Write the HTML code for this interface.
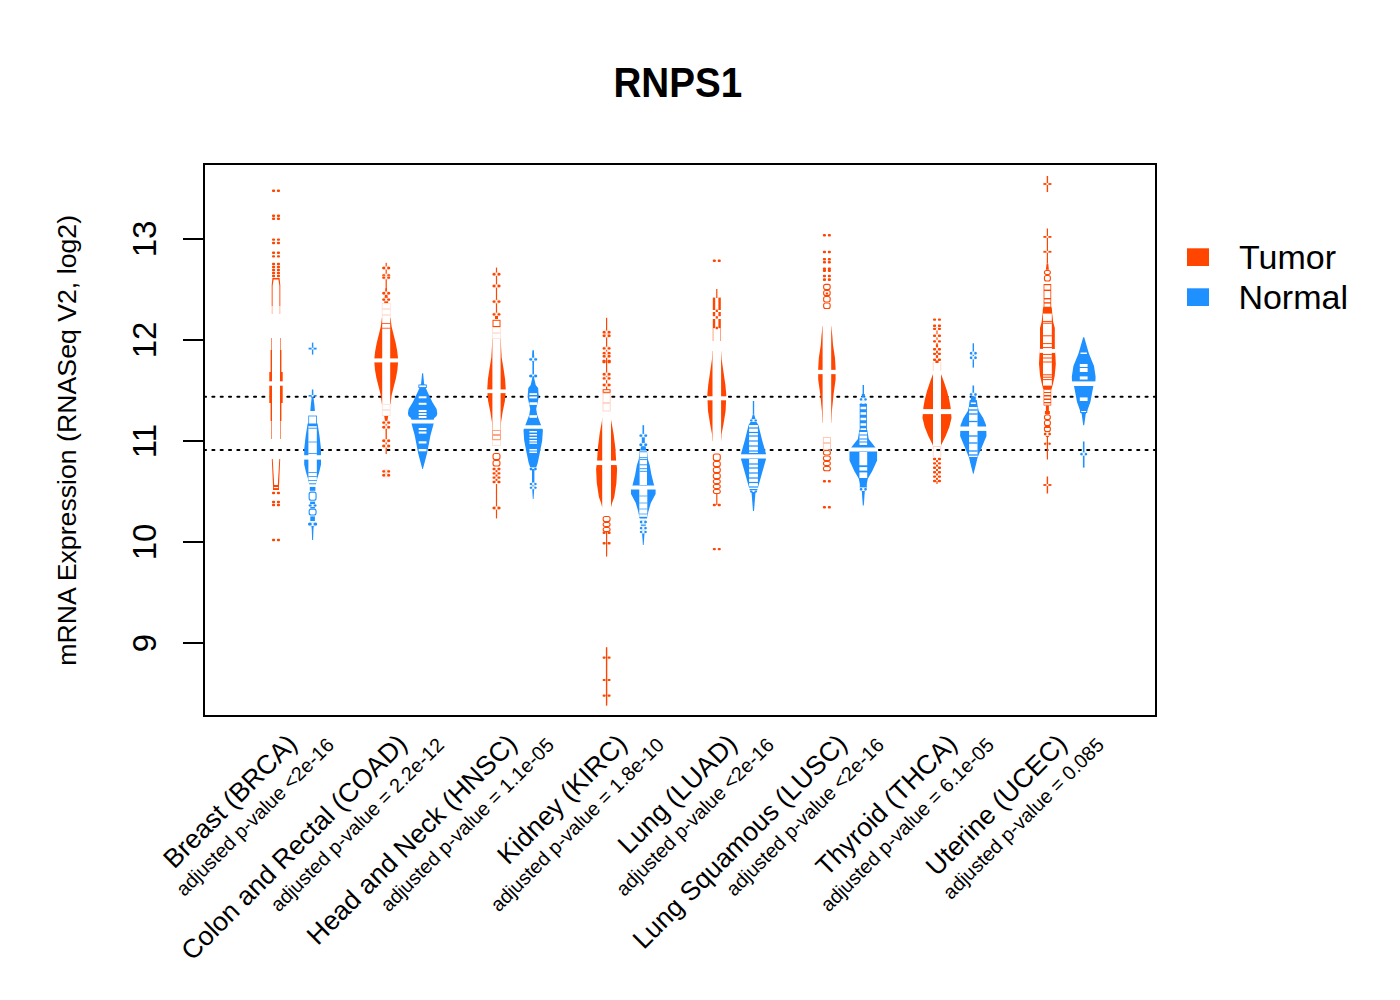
<!DOCTYPE html>
<html><head><meta charset="utf-8"><style>html,body{margin:0;padding:0;background:#fff;width:1400px;height:1000px;overflow:hidden}svg{display:block}text{font-family:"Liberation Sans",sans-serif;fill:#000}</style></head>
<body><svg width="1400" height="1000" viewBox="0 0 1400 1000">
<text x="677.8" y="96.9" text-anchor="middle" font-weight="bold" font-size="42" transform="translate(677.8 0) scale(0.92 1) translate(-677.8 0)">RNPS1</text>
<line x1="204" y1="396.8" x2="1156" y2="396.8" stroke="#000" stroke-width="2" stroke-dasharray="2.1 6.232" stroke-dashoffset="0" stroke-linecap="round"/>
<line x1="204" y1="450.0" x2="1156" y2="450.0" stroke="#000" stroke-width="2" stroke-dasharray="2.1 6.232" stroke-dashoffset="0" stroke-linecap="round"/>
<rect x="272.00" y="189.60" width="3.10" height="2.40" rx="1" fill="#FF4500"/>
<rect x="276.90" y="189.60" width="3.10" height="2.40" rx="1" fill="#FF4500"/>
<rect x="272.00" y="214.60" width="3.10" height="2.40" rx="1" fill="#FF4500"/>
<rect x="276.90" y="214.60" width="3.10" height="2.40" rx="1" fill="#FF4500"/>
<rect x="272.00" y="217.60" width="3.10" height="2.40" rx="1" fill="#FF4500"/>
<rect x="276.90" y="217.60" width="3.10" height="2.40" rx="1" fill="#FF4500"/>
<rect x="272.00" y="238.40" width="3.10" height="2.40" rx="1" fill="#FF4500"/>
<rect x="276.90" y="238.40" width="3.10" height="2.40" rx="1" fill="#FF4500"/>
<rect x="272.00" y="241.80" width="3.10" height="2.40" rx="1" fill="#FF4500"/>
<rect x="276.90" y="241.80" width="3.10" height="2.40" rx="1" fill="#FF4500"/>
<rect x="272.00" y="251.60" width="3.10" height="2.40" rx="1" fill="#FF4500"/>
<rect x="276.90" y="251.60" width="3.10" height="2.40" rx="1" fill="#FF4500"/>
<rect x="272.00" y="255.20" width="3.10" height="2.40" rx="1" fill="#FF4500"/>
<rect x="276.90" y="255.20" width="3.10" height="2.40" rx="1" fill="#FF4500"/>
<rect x="272.00" y="262.80" width="3.10" height="2.40" rx="1" fill="#FF4500"/>
<rect x="276.90" y="262.80" width="3.10" height="2.40" rx="1" fill="#FF4500"/>
<rect x="272.00" y="265.80" width="3.10" height="2.40" rx="1" fill="#FF4500"/>
<rect x="276.90" y="265.80" width="3.10" height="2.40" rx="1" fill="#FF4500"/>
<rect x="272.00" y="268.80" width="3.10" height="2.40" rx="1" fill="#FF4500"/>
<rect x="276.90" y="268.80" width="3.10" height="2.40" rx="1" fill="#FF4500"/>
<rect x="272.00" y="271.80" width="3.10" height="2.40" rx="1" fill="#FF4500"/>
<rect x="276.90" y="271.80" width="3.10" height="2.40" rx="1" fill="#FF4500"/>
<rect x="272.00" y="274.80" width="3.10" height="2.40" rx="1" fill="#FF4500"/>
<rect x="276.90" y="274.80" width="3.10" height="2.40" rx="1" fill="#FF4500"/>
<polygon points="272.40,278.00 271.70,285.00 271.70,306.00 276.00,306.00 276.00,306.00 280.30,306.00 280.30,285.00 279.60,278.00" fill="#FF4500"/>
<polygon points="271.70,306.00 271.70,314.00 280.30,314.00 280.30,306.00" fill="#FFB49A"/>
<polygon points="273.60,279.50 272.60,286.00 272.60,314.00 279.40,314.00 279.40,286.00 278.40,279.50" fill="#FFFFFF"/>
<polygon points="271.40,338.00 271.40,350.00 270.60,350.00 270.60,372.00 269.30,372.00 269.30,403.00 270.60,403.00 270.60,421.00 271.40,421.00 271.40,439.00 280.60,439.00 280.60,421.00 281.40,421.00 281.40,403.00 282.70,403.00 282.70,372.00 281.40,372.00 281.40,350.00 280.60,350.00 280.60,338.00" fill="#FF4500"/>
<rect x="272.00" y="338.00" width="8.00" height="101.00" fill="#FFFFFF"/>
<rect x="268.50" y="381.30" width="15.00" height="4.40" fill="#FFFFFF"/>
<polygon points="271.80,459.00 273.00,486.00 273.00,490.00 279.00,490.00 279.00,486.00 280.20,459.00" fill="#FF4500"/>
<polygon points="272.70,459.00 274.20,485.00 277.80,485.00 279.30,459.00" fill="#FFFFFF"/>
<rect x="273.80" y="487.10" width="4.40" height="1.00" fill="#FFFFFF"/>
<rect x="272.00" y="491.80" width="3.10" height="2.40" rx="1" fill="#FF4500"/>
<rect x="276.90" y="491.80" width="3.10" height="2.40" rx="1" fill="#FF4500"/>
<rect x="272.00" y="500.80" width="3.10" height="2.40" rx="1" fill="#FF4500"/>
<rect x="276.90" y="500.80" width="3.10" height="2.40" rx="1" fill="#FF4500"/>
<rect x="272.00" y="503.80" width="3.10" height="2.40" rx="1" fill="#FF4500"/>
<rect x="276.90" y="503.80" width="3.10" height="2.40" rx="1" fill="#FF4500"/>
<rect x="272.00" y="538.80" width="3.10" height="2.40" rx="1" fill="#FF4500"/>
<rect x="276.90" y="538.80" width="3.10" height="2.40" rx="1" fill="#FF4500"/>
<rect x="311.90" y="342.60" width="1.40" height="12.00" fill="#1E90FF"/>
<rect x="308.60" y="347.70" width="8.00" height="1.80" fill="#1E90FF"/>
<rect x="311.60" y="347.70" width="2.00" height="1.80" fill="#FFFFFF"/>
<polygon points="311.90,389.50 311.80,396.00 311.40,400.00 310.80,405.00 310.30,411.00 314.90,411.00 314.40,405.00 313.80,400.00 313.40,396.00 313.30,389.50" fill="#1E90FF"/>
<rect x="308.60" y="395.00" width="8.00" height="1.60" fill="#1E90FF"/>
<rect x="311.60" y="395.00" width="2.00" height="1.60" fill="#FFFFFF"/>
<rect x="308.30" y="415.60" width="8.60" height="9.30" fill="#1E90FF"/>
<rect x="309.10" y="416.40" width="7.00" height="7.70" fill="#FFFFFF"/>
<polygon points="307.60,423.50 307.30,425.70 305.60,436.50 304.20,449.00 304.20,453.60 304.20,464.40 306.00,472.20 307.95,478.40 308.60,483.00 316.60,483.00 317.25,478.40 319.20,472.20 321.00,464.40 321.00,453.60 321.00,449.00 319.60,436.50 317.90,425.70 317.60,423.50" fill="#1E90FF"/>
<rect x="308.40" y="426.00" width="8.40" height="57.00" fill="#FFFFFF"/>
<rect x="308.30" y="425.00" width="8.60" height="1.20" fill="#1E90FF"/>
<rect x="308.30" y="427.75" width="8.60" height="0.90" fill="#1E90FF"/>
<rect x="308.30" y="441.60" width="8.60" height="0.80" fill="#1E90FF"/>
<rect x="308.30" y="453.00" width="8.60" height="0.80" fill="#1E90FF"/>
<rect x="308.30" y="472.00" width="8.60" height="0.80" fill="#1E90FF"/>
<rect x="308.30" y="476.00" width="8.60" height="0.80" fill="#1E90FF"/>
<rect x="308.30" y="480.00" width="8.60" height="0.80" fill="#1E90FF"/>
<rect x="303.60" y="455.20" width="18.00" height="4.40" fill="#FFFFFF"/>
<rect x="309.10" y="483.30" width="7.00" height="1.00" fill="#1E90FF"/>
<rect x="309.80" y="486.90" width="5.60" height="3.90" fill="#1E90FF"/>
<rect x="308.90" y="491.55" width="7.40" height="9.30" fill="#FFFFFF"/>
<rect x="309.15" y="492.10" width="6.90" height="8.20" rx="2" fill="none" stroke="#1E90FF" stroke-width="1.1"/>
<rect x="310.10" y="501.60" width="5.00" height="2.40" fill="#1E90FF"/>
<rect x="308.90" y="504.00" width="7.40" height="3.00" fill="#FFFFFF"/>
<rect x="308.60" y="504.45" width="3.10" height="2.10" rx="1" fill="#1E90FF"/>
<rect x="313.50" y="504.45" width="3.10" height="2.10" rx="1" fill="#1E90FF"/>
<rect x="309.10" y="504.30" width="7.00" height="2.40" rx="1.20" fill="none" stroke="#1E90FF" stroke-opacity="0.35" stroke-width="0.6"/>
<rect x="310.30" y="507.00" width="4.60" height="1.60" fill="#1E90FF"/>
<rect x="308.90" y="508.60" width="7.40" height="7.00" fill="#FFFFFF"/>
<rect x="309.15" y="509.15" width="6.90" height="5.90" rx="2" fill="none" stroke="#1E90FF" stroke-width="1.1"/>
<rect x="310.30" y="516.40" width="4.60" height="4.60" fill="#1E90FF"/>
<rect x="308.40" y="521.80" width="8.40" height="4.60" fill="#FFFFFF"/>
<rect x="308.10" y="522.80" width="3.60" height="2.60" rx="1" fill="#1E90FF"/>
<rect x="313.50" y="522.80" width="3.60" height="2.60" rx="1" fill="#1E90FF"/>
<rect x="308.60" y="522.10" width="8.00" height="4.00" rx="2.00" fill="none" stroke="#1E90FF" stroke-opacity="0.35" stroke-width="0.6"/>
<polygon points="311.40,526.00 311.80,530.00 312.10,540.00 313.10,540.00 313.40,530.00 313.80,526.00" fill="#1E90FF"/>
<rect x="385.60" y="262.80" width="1.20" height="34.20" fill="#FF4500"/>
<polygon points="385.60,288.00 384.70,297.00 384.20,303.00 388.20,303.00 387.70,297.00 386.80,288.00" fill="#FF4500"/>
<rect x="382.50" y="266.25" width="7.40" height="3.50" fill="#FFFFFF"/>
<rect x="382.20" y="266.77" width="3.10" height="2.45" rx="1" fill="#FF4500"/>
<rect x="387.10" y="266.77" width="3.10" height="2.45" rx="1" fill="#FF4500"/>
<rect x="382.70" y="266.55" width="7.00" height="2.90" rx="1.45" fill="none" stroke="#FF4500" stroke-opacity="0.35" stroke-width="0.6"/>
<rect x="382.50" y="273.65" width="7.40" height="3.50" fill="#FFFFFF"/>
<rect x="382.20" y="274.17" width="3.10" height="2.45" rx="1" fill="#FF4500"/>
<rect x="387.10" y="274.17" width="3.10" height="2.45" rx="1" fill="#FF4500"/>
<rect x="382.70" y="273.95" width="7.00" height="2.90" rx="1.45" fill="none" stroke="#FF4500" stroke-opacity="0.35" stroke-width="0.6"/>
<rect x="382.50" y="275.85" width="7.40" height="3.50" fill="#FFFFFF"/>
<rect x="382.20" y="276.38" width="3.10" height="2.45" rx="1" fill="#FF4500"/>
<rect x="387.10" y="276.38" width="3.10" height="2.45" rx="1" fill="#FF4500"/>
<rect x="382.70" y="276.15" width="7.00" height="2.90" rx="1.45" fill="none" stroke="#FF4500" stroke-opacity="0.35" stroke-width="0.6"/>
<rect x="382.50" y="291.45" width="7.40" height="3.50" fill="#FFFFFF"/>
<rect x="382.20" y="291.97" width="3.10" height="2.45" rx="1" fill="#FF4500"/>
<rect x="387.10" y="291.97" width="3.10" height="2.45" rx="1" fill="#FF4500"/>
<rect x="382.70" y="291.75" width="7.00" height="2.90" rx="1.45" fill="none" stroke="#FF4500" stroke-opacity="0.35" stroke-width="0.6"/>
<rect x="382.50" y="297.85" width="7.40" height="3.50" fill="#FFFFFF"/>
<rect x="382.20" y="298.38" width="3.10" height="2.45" rx="1" fill="#FF4500"/>
<rect x="387.10" y="298.38" width="3.10" height="2.45" rx="1" fill="#FF4500"/>
<rect x="382.70" y="298.15" width="7.00" height="2.90" rx="1.45" fill="none" stroke="#FF4500" stroke-opacity="0.35" stroke-width="0.6"/>
<rect x="381.80" y="303.00" width="8.80" height="6.00" fill="#FFDCCF"/>
<rect x="382.50" y="303.70" width="7.40" height="4.60" fill="#FFFFFF"/>
<rect x="381.80" y="309.00" width="8.80" height="6.00" fill="#FFDCCF"/>
<rect x="382.50" y="309.70" width="7.40" height="4.60" fill="#FFFFFF"/>
<rect x="381.80" y="315.00" width="8.80" height="5.00" fill="#FFDCCF"/>
<rect x="382.50" y="315.70" width="7.40" height="3.60" fill="#FFFFFF"/>
<polygon points="381.90,318.00 380.70,327.00 378.70,335.00 376.70,343.00 375.20,351.00 374.40,358.00 374.40,363.00 375.00,370.00 376.40,378.00 378.70,387.00 380.70,395.00 381.90,404.00 390.50,404.00 391.70,395.00 393.70,387.00 396.00,378.00 397.40,370.00 398.00,363.00 398.00,358.00 397.20,351.00 395.70,343.00 393.70,335.00 391.70,327.00 390.50,318.00" fill="#FF4500"/>
<rect x="382.20" y="318.00" width="8.00" height="86.40" fill="#FFFFFF"/>
<rect x="382.00" y="323.00" width="8.40" height="0.80" fill="#FF4500"/>
<rect x="382.00" y="327.80" width="8.40" height="0.80" fill="#FF4500"/>
<rect x="373.90" y="358.40" width="24.60" height="4.00" fill="#FFFFFF"/>
<rect x="381.90" y="404.00" width="8.60" height="6.00" fill="#FFDCCF"/>
<rect x="382.60" y="404.70" width="7.20" height="4.60" fill="#FFFFFF"/>
<rect x="381.90" y="410.00" width="8.60" height="6.00" fill="#FFDCCF"/>
<rect x="382.60" y="410.70" width="7.20" height="4.60" fill="#FFFFFF"/>
<polygon points="384.20,416.00 385.50,424.00 385.60,454.00 386.80,454.00 386.90,424.00 388.20,416.00" fill="#FF4500"/>
<rect x="382.50" y="420.85" width="7.40" height="3.50" fill="#FFFFFF"/>
<rect x="382.20" y="421.38" width="3.10" height="2.45" rx="1" fill="#FF4500"/>
<rect x="387.10" y="421.38" width="3.10" height="2.45" rx="1" fill="#FF4500"/>
<rect x="382.70" y="421.15" width="7.00" height="2.90" rx="1.45" fill="none" stroke="#FF4500" stroke-opacity="0.35" stroke-width="0.6"/>
<rect x="382.50" y="425.45" width="7.40" height="3.50" fill="#FFFFFF"/>
<rect x="382.20" y="425.97" width="3.10" height="2.45" rx="1" fill="#FF4500"/>
<rect x="387.10" y="425.97" width="3.10" height="2.45" rx="1" fill="#FF4500"/>
<rect x="382.70" y="425.75" width="7.00" height="2.90" rx="1.45" fill="none" stroke="#FF4500" stroke-opacity="0.35" stroke-width="0.6"/>
<rect x="382.50" y="439.05" width="7.40" height="3.50" fill="#FFFFFF"/>
<rect x="382.20" y="439.57" width="3.10" height="2.45" rx="1" fill="#FF4500"/>
<rect x="387.10" y="439.57" width="3.10" height="2.45" rx="1" fill="#FF4500"/>
<rect x="382.70" y="439.35" width="7.00" height="2.90" rx="1.45" fill="none" stroke="#FF4500" stroke-opacity="0.35" stroke-width="0.6"/>
<rect x="382.50" y="444.25" width="7.40" height="3.50" fill="#FFFFFF"/>
<rect x="382.20" y="444.77" width="3.10" height="2.45" rx="1" fill="#FF4500"/>
<rect x="387.10" y="444.77" width="3.10" height="2.45" rx="1" fill="#FF4500"/>
<rect x="382.70" y="444.55" width="7.00" height="2.90" rx="1.45" fill="none" stroke="#FF4500" stroke-opacity="0.35" stroke-width="0.6"/>
<rect x="382.50" y="469.65" width="7.40" height="3.50" fill="#FFFFFF"/>
<rect x="382.20" y="470.17" width="3.10" height="2.45" rx="1" fill="#FF4500"/>
<rect x="387.10" y="470.17" width="3.10" height="2.45" rx="1" fill="#FF4500"/>
<rect x="382.70" y="469.95" width="7.00" height="2.90" rx="1.45" fill="none" stroke="#FF4500" stroke-opacity="0.35" stroke-width="0.6"/>
<rect x="382.50" y="473.55" width="7.40" height="3.50" fill="#FFFFFF"/>
<rect x="382.20" y="474.07" width="3.10" height="2.45" rx="1" fill="#FF4500"/>
<rect x="387.10" y="474.07" width="3.10" height="2.45" rx="1" fill="#FF4500"/>
<rect x="382.70" y="473.85" width="7.00" height="2.90" rx="1.45" fill="none" stroke="#FF4500" stroke-opacity="0.35" stroke-width="0.6"/>
<polygon points="422.10,373.20 421.10,383.60 419.60,387.50 418.10,391.00 415.90,395.80 412.60,402.40 408.60,409.00 407.90,413.60 408.60,416.00 410.90,418.00 411.60,420.00 411.50,423.50 414.80,435.80 418.20,453.60 422.30,469.00 422.90,469.00 427.00,453.60 430.40,435.80 433.70,423.50 433.60,420.00 434.30,418.00 436.60,416.00 437.30,413.60 436.60,409.00 432.60,402.40 429.30,395.80 427.10,391.00 425.60,387.50 424.10,383.60 423.10,373.20" fill="#1E90FF"/>
<rect x="418.40" y="384.50" width="8.40" height="3.50" fill="#1E90FF"/>
<rect x="419.30" y="385.40" width="6.60" height="1.70" fill="#FFFFFF"/>
<rect x="418.70" y="396.30" width="7.80" height="2.00" fill="#FFFFFF"/>
<rect x="418.70" y="402.80" width="7.80" height="2.00" fill="#FFFFFF"/>
<rect x="418.70" y="410.00" width="7.80" height="2.00" fill="#FFFFFF"/>
<rect x="418.70" y="413.00" width="7.80" height="2.00" fill="#FFFFFF"/>
<rect x="418.70" y="416.00" width="7.80" height="2.00" fill="#FFFFFF"/>
<rect x="418.70" y="428.00" width="7.80" height="2.00" fill="#FFFFFF"/>
<rect x="418.70" y="431.50" width="7.80" height="2.10" fill="#FFFFFF"/>
<rect x="418.70" y="441.30" width="7.80" height="2.20" fill="#FFFFFF"/>
<rect x="418.70" y="449.00" width="7.80" height="2.30" fill="#FFFFFF"/>
<rect x="407.60" y="419.70" width="30.00" height="3.80" fill="#FFFFFF"/>
<rect x="495.90" y="267.60" width="1.20" height="49.40" fill="#FF4500"/>
<rect x="492.80" y="272.45" width="7.40" height="3.50" fill="#FFFFFF"/>
<rect x="492.50" y="272.97" width="3.10" height="2.45" rx="1" fill="#FF4500"/>
<rect x="497.40" y="272.97" width="3.10" height="2.45" rx="1" fill="#FF4500"/>
<rect x="493.00" y="272.75" width="7.00" height="2.90" rx="1.45" fill="none" stroke="#FF4500" stroke-opacity="0.35" stroke-width="0.6"/>
<rect x="492.80" y="284.25" width="7.40" height="3.50" fill="#FFFFFF"/>
<rect x="492.50" y="284.77" width="3.10" height="2.45" rx="1" fill="#FF4500"/>
<rect x="497.40" y="284.77" width="3.10" height="2.45" rx="1" fill="#FF4500"/>
<rect x="493.00" y="284.55" width="7.00" height="2.90" rx="1.45" fill="none" stroke="#FF4500" stroke-opacity="0.35" stroke-width="0.6"/>
<rect x="492.80" y="299.85" width="7.40" height="3.50" fill="#FFFFFF"/>
<rect x="492.50" y="300.38" width="3.10" height="2.45" rx="1" fill="#FF4500"/>
<rect x="497.40" y="300.38" width="3.10" height="2.45" rx="1" fill="#FF4500"/>
<rect x="493.00" y="300.15" width="7.00" height="2.90" rx="1.45" fill="none" stroke="#FF4500" stroke-opacity="0.35" stroke-width="0.6"/>
<rect x="492.80" y="312.65" width="7.40" height="3.50" fill="#FFFFFF"/>
<rect x="492.50" y="313.17" width="3.10" height="2.45" rx="1" fill="#FF4500"/>
<rect x="497.40" y="313.17" width="3.10" height="2.45" rx="1" fill="#FF4500"/>
<rect x="493.00" y="312.95" width="7.00" height="2.90" rx="1.45" fill="none" stroke="#FF4500" stroke-opacity="0.35" stroke-width="0.6"/>
<rect x="495.00" y="316.00" width="3.00" height="3.00" fill="#FF4500"/>
<rect x="492.50" y="319.80" width="8.00" height="7.20" fill="#FF4500"/>
<rect x="493.50" y="320.80" width="6.00" height="5.20" fill="#FFFFFF"/>
<rect x="492.20" y="327.00" width="8.60" height="6.00" fill="#FFDCCF"/>
<rect x="492.90" y="327.70" width="7.20" height="4.60" fill="#FFFFFF"/>
<rect x="492.20" y="333.00" width="8.60" height="6.00" fill="#FFDCCF"/>
<rect x="492.90" y="333.70" width="7.20" height="4.60" fill="#FFFFFF"/>
<polygon points="492.20,339.00 492.10,344.00 491.30,357.70 489.50,368.50 487.90,379.30 487.20,390.00 488.10,401.00 490.30,411.80 492.00,422.60 492.20,430.00 500.80,430.00 501.00,422.60 502.70,411.80 504.90,401.00 505.80,390.00 505.10,379.30 503.50,368.50 501.70,357.70 500.90,344.00 500.80,339.00" fill="#FF4500"/>
<rect x="492.40" y="339.00" width="8.20" height="91.00" fill="#FFFFFF"/>
<rect x="492.20" y="430.00" width="8.60" height="5.00" fill="#FF8F66"/>
<rect x="493.00" y="430.80" width="7.00" height="3.40" fill="#FFFFFF"/>
<rect x="492.20" y="435.00" width="8.60" height="5.00" fill="#FF8F66"/>
<rect x="493.00" y="435.80" width="7.00" height="3.40" fill="#FFFFFF"/>
<rect x="492.20" y="440.00" width="8.60" height="6.00" fill="#FFDCCF"/>
<rect x="492.90" y="440.70" width="7.20" height="4.60" fill="#FFFFFF"/>
<rect x="486.50" y="389.45" width="20.00" height="3.70" fill="#FFFFFF"/>
<rect x="492.80" y="453.00" width="7.40" height="7.00" fill="#FFFFFF"/>
<rect x="493.05" y="453.55" width="6.90" height="5.90" rx="2" fill="none" stroke="#FF4500" stroke-width="1.1"/>
<rect x="492.80" y="460.00" width="7.40" height="6.50" fill="#FFFFFF"/>
<rect x="493.05" y="460.55" width="6.90" height="5.40" rx="2" fill="none" stroke="#FF4500" stroke-width="1.1"/>
<rect x="495.95" y="469.00" width="1.10" height="13.00" fill="#FF4500"/>
<rect x="492.80" y="467.40" width="7.40" height="3.20" fill="#FFFFFF"/>
<rect x="492.50" y="467.80" width="3.10" height="2.40" rx="1" fill="#FF4500"/>
<rect x="497.40" y="467.80" width="3.10" height="2.40" rx="1" fill="#FF4500"/>
<rect x="492.80" y="471.73" width="7.40" height="3.20" fill="#FFFFFF"/>
<rect x="492.50" y="472.13" width="3.10" height="2.40" rx="1" fill="#FF4500"/>
<rect x="497.40" y="472.13" width="3.10" height="2.40" rx="1" fill="#FF4500"/>
<rect x="492.80" y="476.07" width="7.40" height="3.20" fill="#FFFFFF"/>
<rect x="492.50" y="476.47" width="3.10" height="2.40" rx="1" fill="#FF4500"/>
<rect x="497.40" y="476.47" width="3.10" height="2.40" rx="1" fill="#FF4500"/>
<rect x="492.80" y="480.40" width="7.40" height="3.20" fill="#FFFFFF"/>
<rect x="492.50" y="480.80" width="3.10" height="2.40" rx="1" fill="#FF4500"/>
<rect x="497.40" y="480.80" width="3.10" height="2.40" rx="1" fill="#FF4500"/>
<rect x="495.50" y="470.17" width="2.00" height="2.00" fill="#FF4500"/>
<rect x="495.50" y="474.50" width="2.00" height="2.00" fill="#FF4500"/>
<rect x="495.50" y="478.83" width="2.00" height="2.00" fill="#FF4500"/>
<rect x="495.90" y="484.00" width="1.20" height="34.40" fill="#FF4500"/>
<rect x="492.80" y="506.25" width="7.40" height="3.50" fill="#FFFFFF"/>
<rect x="492.50" y="506.77" width="3.10" height="2.45" rx="1" fill="#FF4500"/>
<rect x="497.40" y="506.77" width="3.10" height="2.45" rx="1" fill="#FF4500"/>
<rect x="493.00" y="506.55" width="7.00" height="2.90" rx="1.45" fill="none" stroke="#FF4500" stroke-opacity="0.35" stroke-width="0.6"/>
<rect x="532.40" y="350.40" width="1.60" height="25.60" fill="#1E90FF"/>
<polygon points="532.80,350.40 532.20,356.00 532.20,362.00 534.20,362.00 534.20,356.00 533.60,350.40" fill="#1E90FF"/>
<rect x="529.50" y="357.65" width="7.40" height="3.50" fill="#FFFFFF"/>
<rect x="529.20" y="358.17" width="3.10" height="2.45" rx="1" fill="#1E90FF"/>
<rect x="534.10" y="358.17" width="3.10" height="2.45" rx="1" fill="#1E90FF"/>
<rect x="529.70" y="357.95" width="7.00" height="2.90" rx="1.45" fill="none" stroke="#1E90FF" stroke-opacity="0.35" stroke-width="0.6"/>
<rect x="529.50" y="374.25" width="7.40" height="3.50" fill="#FFFFFF"/>
<rect x="529.20" y="374.77" width="3.10" height="2.45" rx="1" fill="#1E90FF"/>
<rect x="534.10" y="374.77" width="3.10" height="2.45" rx="1" fill="#1E90FF"/>
<rect x="529.70" y="374.55" width="7.00" height="2.90" rx="1.45" fill="none" stroke="#1E90FF" stroke-opacity="0.35" stroke-width="0.6"/>
<polygon points="532.70,376.00 530.70,385.00 528.30,388.00 527.60,397.00 530.20,409.00 529.20,415.00 526.10,423.20 523.50,430.00 524.20,440.50 526.50,452.50 528.70,463.00 530.70,469.00 535.70,469.00 537.70,463.00 539.90,452.50 542.20,440.50 542.90,430.00 540.30,423.20 537.20,415.00 536.20,409.00 538.80,397.00 538.10,388.00 535.70,385.00 533.70,376.00" fill="#1E90FF"/>
<rect x="529.40" y="393.20" width="7.60" height="1.80" fill="#FFFFFF"/>
<rect x="529.40" y="396.50" width="7.60" height="1.90" fill="#FFFFFF"/>
<rect x="529.40" y="402.30" width="7.60" height="2.60" fill="#FFFFFF"/>
<rect x="529.40" y="415.20" width="7.60" height="2.60" fill="#FFFFFF"/>
<rect x="529.40" y="431.00" width="7.60" height="1.50" fill="#FFFFFF"/>
<rect x="529.40" y="434.00" width="7.60" height="1.50" fill="#FFFFFF"/>
<rect x="529.40" y="437.00" width="7.60" height="1.50" fill="#FFFFFF"/>
<rect x="529.40" y="440.00" width="7.60" height="1.50" fill="#FFFFFF"/>
<rect x="529.40" y="442.50" width="7.60" height="1.30" fill="#FFFFFF"/>
<rect x="529.40" y="449.00" width="7.60" height="1.50" fill="#FFFFFF"/>
<rect x="529.40" y="451.50" width="7.60" height="1.50" fill="#FFFFFF"/>
<rect x="523.20" y="425.25" width="20.00" height="3.50" fill="#FFFFFF"/>
<rect x="530.00" y="467.25" width="6.40" height="3.50" fill="#FFFFFF"/>
<rect x="529.70" y="467.77" width="2.60" height="2.45" rx="1" fill="#1E90FF"/>
<rect x="534.10" y="467.77" width="2.60" height="2.45" rx="1" fill="#1E90FF"/>
<rect x="530.20" y="467.55" width="6.00" height="2.90" rx="1.45" fill="none" stroke="#1E90FF" stroke-opacity="0.35" stroke-width="0.6"/>
<polygon points="532.00,469.00 532.00,485.00 532.80,499.00 533.60,499.00 534.40,485.00 534.40,469.00" fill="#1E90FF"/>
<rect x="530.00" y="482.50" width="6.40" height="3.00" fill="#FFFFFF"/>
<rect x="529.70" y="482.95" width="2.60" height="2.10" rx="1" fill="#1E90FF"/>
<rect x="534.10" y="482.95" width="2.60" height="2.10" rx="1" fill="#1E90FF"/>
<rect x="530.20" y="482.80" width="6.00" height="2.40" rx="1.20" fill="none" stroke="#1E90FF" stroke-opacity="0.35" stroke-width="0.6"/>
<rect x="530.00" y="486.20" width="6.40" height="3.00" fill="#FFFFFF"/>
<rect x="529.70" y="486.65" width="2.60" height="2.10" rx="1" fill="#1E90FF"/>
<rect x="534.10" y="486.65" width="2.60" height="2.10" rx="1" fill="#1E90FF"/>
<rect x="530.20" y="486.50" width="6.00" height="2.40" rx="1.20" fill="none" stroke="#1E90FF" stroke-opacity="0.35" stroke-width="0.6"/>
<rect x="606.00" y="317.80" width="1.20" height="74.20" fill="#FF4500"/>
<rect x="602.90" y="330.45" width="7.40" height="3.50" fill="#FFFFFF"/>
<rect x="602.60" y="330.97" width="3.10" height="2.45" rx="1" fill="#FF4500"/>
<rect x="607.50" y="330.97" width="3.10" height="2.45" rx="1" fill="#FF4500"/>
<rect x="603.10" y="330.75" width="7.00" height="2.90" rx="1.45" fill="none" stroke="#FF4500" stroke-opacity="0.35" stroke-width="0.6"/>
<rect x="602.90" y="334.05" width="7.40" height="3.50" fill="#FFFFFF"/>
<rect x="602.60" y="334.57" width="3.10" height="2.45" rx="1" fill="#FF4500"/>
<rect x="607.50" y="334.57" width="3.10" height="2.45" rx="1" fill="#FF4500"/>
<rect x="603.10" y="334.35" width="7.00" height="2.90" rx="1.45" fill="none" stroke="#FF4500" stroke-opacity="0.35" stroke-width="0.6"/>
<rect x="602.90" y="346.65" width="7.40" height="3.50" fill="#FFFFFF"/>
<rect x="602.60" y="347.17" width="3.10" height="2.45" rx="1" fill="#FF4500"/>
<rect x="607.50" y="347.17" width="3.10" height="2.45" rx="1" fill="#FF4500"/>
<rect x="603.10" y="346.95" width="7.00" height="2.90" rx="1.45" fill="none" stroke="#FF4500" stroke-opacity="0.35" stroke-width="0.6"/>
<rect x="602.90" y="351.45" width="7.40" height="3.50" fill="#FFFFFF"/>
<rect x="602.60" y="351.97" width="3.10" height="2.45" rx="1" fill="#FF4500"/>
<rect x="607.50" y="351.97" width="3.10" height="2.45" rx="1" fill="#FF4500"/>
<rect x="603.10" y="351.75" width="7.00" height="2.90" rx="1.45" fill="none" stroke="#FF4500" stroke-opacity="0.35" stroke-width="0.6"/>
<rect x="602.90" y="354.45" width="7.40" height="3.50" fill="#FFFFFF"/>
<rect x="602.60" y="354.97" width="3.10" height="2.45" rx="1" fill="#FF4500"/>
<rect x="607.50" y="354.97" width="3.10" height="2.45" rx="1" fill="#FF4500"/>
<rect x="603.10" y="354.75" width="7.00" height="2.90" rx="1.45" fill="none" stroke="#FF4500" stroke-opacity="0.35" stroke-width="0.6"/>
<rect x="602.90" y="372.45" width="7.40" height="3.50" fill="#FFFFFF"/>
<rect x="602.60" y="372.97" width="3.10" height="2.45" rx="1" fill="#FF4500"/>
<rect x="607.50" y="372.97" width="3.10" height="2.45" rx="1" fill="#FF4500"/>
<rect x="603.10" y="372.75" width="7.00" height="2.90" rx="1.45" fill="none" stroke="#FF4500" stroke-opacity="0.35" stroke-width="0.6"/>
<rect x="602.90" y="376.65" width="7.40" height="3.50" fill="#FFFFFF"/>
<rect x="602.60" y="377.17" width="3.10" height="2.45" rx="1" fill="#FF4500"/>
<rect x="607.50" y="377.17" width="3.10" height="2.45" rx="1" fill="#FF4500"/>
<rect x="603.10" y="376.95" width="7.00" height="2.90" rx="1.45" fill="none" stroke="#FF4500" stroke-opacity="0.35" stroke-width="0.6"/>
<rect x="602.90" y="383.25" width="7.40" height="3.50" fill="#FFFFFF"/>
<rect x="602.60" y="383.77" width="3.10" height="2.45" rx="1" fill="#FF4500"/>
<rect x="607.50" y="383.77" width="3.10" height="2.45" rx="1" fill="#FF4500"/>
<rect x="603.10" y="383.55" width="7.00" height="2.90" rx="1.45" fill="none" stroke="#FF4500" stroke-opacity="0.35" stroke-width="0.6"/>
<rect x="602.40" y="359.85" width="3.30" height="3.50" rx="1" fill="#FF4500"/>
<rect x="607.50" y="359.85" width="3.30" height="3.50" rx="1" fill="#FF4500"/>
<rect x="602.60" y="389.20" width="8.00" height="3.60" fill="#FF4500"/>
<rect x="603.60" y="390.20" width="6.00" height="1.60" fill="#FFFFFF"/>
<rect x="602.60" y="393.00" width="8.00" height="10.00" fill="#FFCDBB"/>
<rect x="603.40" y="393.80" width="6.40" height="8.40" fill="#FFFFFF"/>
<rect x="602.60" y="403.00" width="8.00" height="8.40" fill="#FFCDBB"/>
<rect x="603.40" y="403.80" width="6.40" height="6.80" fill="#FFFFFF"/>
<polygon points="602.30,418.00 602.10,420.00 599.60,434.00 597.85,448.00 597.10,460.60 596.10,469.00 596.80,483.00 598.90,497.00 601.10,503.00 602.20,507.50 611.00,507.50 612.10,503.00 614.30,497.00 616.40,483.00 617.10,469.00 616.10,460.60 615.35,448.00 613.60,434.00 611.10,420.00 610.90,418.00" fill="#FF4500"/>
<rect x="602.20" y="418.00" width="8.80" height="90.00" fill="#FFFFFF"/>
<rect x="595.60" y="460.55" width="22.00" height="4.50" fill="#FFFFFF"/>
<rect x="602.90" y="516.00" width="7.40" height="6.00" fill="#FFFFFF"/>
<rect x="603.15" y="516.55" width="6.90" height="4.90" rx="2" fill="none" stroke="#FF4500" stroke-width="1.1"/>
<rect x="602.90" y="522.00" width="7.40" height="5.00" fill="#FFFFFF"/>
<rect x="603.15" y="522.55" width="6.90" height="3.90" rx="2" fill="none" stroke="#FF4500" stroke-width="1.1"/>
<rect x="602.90" y="527.00" width="7.40" height="5.00" fill="#FFFFFF"/>
<rect x="603.15" y="527.55" width="6.90" height="3.90" rx="2" fill="none" stroke="#FF4500" stroke-width="1.1"/>
<rect x="606.00" y="532.00" width="1.20" height="24.50" fill="#FF4500"/>
<rect x="602.60" y="531.50" width="3.10" height="2.40" rx="1" fill="#FF4500"/>
<rect x="607.50" y="531.50" width="3.10" height="2.40" rx="1" fill="#FF4500"/>
<rect x="602.60" y="542.00" width="3.10" height="2.40" rx="1" fill="#FF4500"/>
<rect x="607.50" y="542.00" width="3.10" height="2.40" rx="1" fill="#FF4500"/>
<rect x="605.90" y="647.20" width="1.40" height="58.40" fill="#FF4500"/>
<rect x="602.60" y="656.50" width="3.10" height="2.20" rx="1" fill="#FF4500"/>
<rect x="607.50" y="656.50" width="3.10" height="2.20" rx="1" fill="#FF4500"/>
<rect x="602.60" y="678.90" width="3.10" height="2.20" rx="1" fill="#FF4500"/>
<rect x="607.50" y="678.90" width="3.10" height="2.20" rx="1" fill="#FF4500"/>
<rect x="602.60" y="694.50" width="3.10" height="2.20" rx="1" fill="#FF4500"/>
<rect x="607.50" y="694.50" width="3.10" height="2.20" rx="1" fill="#FF4500"/>
<rect x="642.50" y="425.20" width="1.60" height="21.80" fill="#1E90FF"/>
<polygon points="641.80,437.00 641.80,443.00 644.80,443.00 644.80,437.00" fill="#1E90FF"/>
<rect x="639.70" y="433.85" width="7.20" height="3.50" fill="#FFFFFF"/>
<rect x="639.40" y="434.38" width="3.00" height="2.45" rx="1" fill="#1E90FF"/>
<rect x="644.20" y="434.38" width="3.00" height="2.45" rx="1" fill="#1E90FF"/>
<rect x="639.90" y="434.15" width="6.80" height="2.90" rx="1.45" fill="none" stroke="#1E90FF" stroke-opacity="0.35" stroke-width="0.6"/>
<rect x="639.70" y="442.95" width="7.20" height="3.50" fill="#FFFFFF"/>
<rect x="639.40" y="443.47" width="3.00" height="2.45" rx="1" fill="#1E90FF"/>
<rect x="644.20" y="443.47" width="3.00" height="2.45" rx="1" fill="#1E90FF"/>
<rect x="639.90" y="443.25" width="6.80" height="2.90" rx="1.45" fill="none" stroke="#1E90FF" stroke-opacity="0.35" stroke-width="0.6"/>
<rect x="640.80" y="446.30" width="5.00" height="2.00" fill="#1E90FF"/>
<polygon points="640.80,448.00 639.40,452.50 638.80,459.00 636.80,465.50 635.20,474.50 632.60,485.00 631.80,487.00 631.00,489.50 631.00,494.00 635.80,503.00 638.10,511.00 639.40,517.40 639.80,518.50 646.80,518.50 647.20,517.40 648.50,511.00 650.80,503.00 655.60,494.00 655.60,489.50 654.80,487.00 654.00,485.00 651.40,474.50 649.80,465.50 647.80,459.00 647.20,452.50 645.80,448.00" fill="#1E90FF"/>
<rect x="639.60" y="450.50" width="7.40" height="34.50" fill="#FFFFFF"/>
<rect x="639.50" y="451.35" width="7.60" height="0.90" fill="#1E90FF"/>
<rect x="639.50" y="457.25" width="7.60" height="0.90" fill="#1E90FF"/>
<rect x="639.50" y="459.15" width="7.60" height="0.90" fill="#1E90FF"/>
<rect x="639.50" y="464.35" width="7.60" height="0.90" fill="#1E90FF"/>
<rect x="639.50" y="468.25" width="7.60" height="0.90" fill="#1E90FF"/>
<rect x="639.50" y="470.85" width="7.60" height="0.90" fill="#1E90FF"/>
<rect x="639.30" y="489.00" width="8.00" height="28.00" fill="#FFFFFF"/>
<rect x="639.30" y="495.65" width="8.00" height="0.70" fill="#1E90FF"/>
<rect x="639.30" y="502.65" width="8.00" height="0.70" fill="#1E90FF"/>
<rect x="639.30" y="508.65" width="8.00" height="0.70" fill="#1E90FF"/>
<rect x="639.30" y="513.65" width="8.00" height="0.70" fill="#1E90FF"/>
<rect x="639.70" y="516.80" width="7.20" height="1.20" fill="#1E90FF"/>
<rect x="630.30" y="485.50" width="26.00" height="4.00" fill="#FFFFFF"/>
<rect x="640.10" y="520.05" width="6.40" height="3.90" fill="#FFFFFF"/>
<rect x="639.80" y="520.70" width="2.60" height="2.60" rx="1" fill="#1E90FF"/>
<rect x="644.20" y="520.70" width="2.60" height="2.60" rx="1" fill="#1E90FF"/>
<rect x="640.30" y="520.35" width="6.00" height="3.30" rx="1.65" fill="none" stroke="#1E90FF" stroke-opacity="0.35" stroke-width="0.6"/>
<rect x="640.80" y="524.50" width="5.00" height="1.30" fill="#1E90FF"/>
<rect x="640.10" y="526.50" width="6.40" height="3.20" fill="#FFFFFF"/>
<rect x="639.80" y="526.98" width="2.60" height="2.24" rx="1" fill="#1E90FF"/>
<rect x="644.20" y="526.98" width="2.60" height="2.24" rx="1" fill="#1E90FF"/>
<rect x="640.30" y="526.80" width="6.00" height="2.60" rx="1.30" fill="none" stroke="#1E90FF" stroke-opacity="0.35" stroke-width="0.6"/>
<rect x="640.10" y="530.40" width="6.40" height="3.20" fill="#FFFFFF"/>
<rect x="639.80" y="530.88" width="2.60" height="2.24" rx="1" fill="#1E90FF"/>
<rect x="644.20" y="530.88" width="2.60" height="2.24" rx="1" fill="#1E90FF"/>
<rect x="640.30" y="530.70" width="6.00" height="2.60" rx="1.30" fill="none" stroke="#1E90FF" stroke-opacity="0.35" stroke-width="0.6"/>
<polygon points="642.10,533.60 642.90,545.00 643.70,545.00 644.50,533.60" fill="#1E90FF"/>
<rect x="712.80" y="259.60" width="3.10" height="2.40" rx="1" fill="#FF4500"/>
<rect x="717.70" y="259.60" width="3.10" height="2.40" rx="1" fill="#FF4500"/>
<rect x="716.20" y="289.00" width="1.20" height="9.00" fill="#FF4500"/>
<rect x="712.80" y="297.60" width="2.40" height="12.40" fill="#FF4500"/>
<rect x="718.40" y="297.60" width="2.40" height="12.40" fill="#FF4500"/>
<rect x="712.80" y="312.00" width="2.40" height="4.20" fill="#FF4500"/>
<rect x="718.40" y="312.00" width="2.40" height="4.20" fill="#FF4500"/>
<rect x="712.80" y="319.00" width="2.40" height="9.20" fill="#FF4500"/>
<rect x="718.40" y="319.00" width="2.40" height="9.20" fill="#FF4500"/>
<rect x="715.70" y="309.60" width="2.20" height="2.40" fill="#FF4500"/>
<rect x="715.70" y="316.20" width="2.20" height="2.40" fill="#FF4500"/>
<rect x="715.70" y="326.80" width="2.20" height="2.40" fill="#FF4500"/>
<rect x="712.60" y="328.00" width="0.90" height="13.00" fill="#FF9A75"/>
<rect x="720.10" y="328.00" width="0.90" height="13.00" fill="#FF9A75"/>
<polygon points="712.50,351.00 712.00,359.00 710.10,372.00 708.20,385.00 707.30,395.00 708.00,411.00 710.10,424.00 712.00,434.00 712.50,441.00 721.10,441.00 721.60,434.00 723.50,424.00 725.60,411.00 726.30,395.00 725.40,385.00 723.50,372.00 721.60,359.00 721.10,351.00" fill="#FF4500"/>
<rect x="712.50" y="351.00" width="8.60" height="90.00" fill="#FFFFFF"/>
<rect x="706.80" y="396.30" width="20.00" height="4.00" fill="#FFFFFF"/>
<rect x="713.10" y="453.50" width="7.40" height="7.50" fill="#FFFFFF"/>
<rect x="713.35" y="454.05" width="6.90" height="6.40" rx="2" fill="none" stroke="#FF4500" stroke-width="1.1"/>
<rect x="713.10" y="461.00" width="7.40" height="6.00" fill="#FFFFFF"/>
<rect x="713.35" y="461.55" width="6.90" height="4.90" rx="2" fill="none" stroke="#FF4500" stroke-width="1.1"/>
<rect x="713.10" y="467.00" width="7.40" height="6.00" fill="#FFFFFF"/>
<rect x="713.35" y="467.55" width="6.90" height="4.90" rx="2" fill="none" stroke="#FF4500" stroke-width="1.1"/>
<rect x="713.10" y="473.00" width="7.40" height="6.00" fill="#FFFFFF"/>
<rect x="713.35" y="473.55" width="6.90" height="4.90" rx="2" fill="none" stroke="#FF4500" stroke-width="1.1"/>
<rect x="713.10" y="479.00" width="7.40" height="5.00" fill="#FFFFFF"/>
<rect x="713.35" y="479.55" width="6.90" height="3.90" rx="2" fill="none" stroke="#FF4500" stroke-width="1.1"/>
<rect x="713.10" y="484.00" width="7.40" height="5.00" fill="#FFFFFF"/>
<rect x="713.35" y="484.55" width="6.90" height="3.90" rx="2" fill="none" stroke="#FF4500" stroke-width="1.1"/>
<rect x="713.10" y="489.00" width="7.40" height="5.00" fill="#FFFFFF"/>
<rect x="713.35" y="489.55" width="6.90" height="3.90" rx="2" fill="none" stroke="#FF4500" stroke-width="1.1"/>
<rect x="716.20" y="494.00" width="1.20" height="11.00" fill="#FF4500"/>
<rect x="712.80" y="503.80" width="3.10" height="2.40" rx="1" fill="#FF4500"/>
<rect x="717.70" y="503.80" width="3.10" height="2.40" rx="1" fill="#FF4500"/>
<rect x="712.80" y="547.90" width="3.10" height="2.40" rx="1" fill="#FF4500"/>
<rect x="717.70" y="547.90" width="3.10" height="2.40" rx="1" fill="#FF4500"/>
<rect x="752.80" y="401.00" width="1.40" height="13.50" fill="#1E90FF"/>
<polygon points="752.80,414.50 751.50,419.00 755.50,419.00 754.20,414.50" fill="#1E90FF"/>
<rect x="750.30" y="419.00" width="6.40" height="3.00" fill="#FFFFFF"/>
<rect x="750.00" y="419.45" width="2.60" height="2.10" rx="1" fill="#1E90FF"/>
<rect x="754.40" y="419.45" width="2.60" height="2.10" rx="1" fill="#1E90FF"/>
<rect x="750.50" y="419.30" width="6.00" height="2.40" rx="1.20" fill="none" stroke="#1E90FF" stroke-opacity="0.35" stroke-width="0.6"/>
<polygon points="750.50,422.00 748.60,425.00 744.90,440.00 741.10,453.50 741.10,459.50 744.10,470.00 748.30,485.00 750.00,491.00 757.00,491.00 758.70,485.00 762.90,470.00 765.90,459.50 765.90,453.50 762.10,440.00 758.40,425.00 756.50,422.00" fill="#1E90FF"/>
<rect x="749.10" y="425.00" width="8.80" height="28.00" fill="#FFFFFF"/>
<rect x="749.00" y="427.40" width="9.00" height="1.20" fill="#1E90FF"/>
<rect x="749.00" y="431.90" width="9.00" height="1.20" fill="#1E90FF"/>
<rect x="749.00" y="435.40" width="9.00" height="1.20" fill="#1E90FF"/>
<rect x="749.00" y="440.40" width="9.00" height="1.20" fill="#1E90FF"/>
<rect x="749.00" y="445.40" width="9.00" height="1.20" fill="#1E90FF"/>
<rect x="749.00" y="450.40" width="9.00" height="1.20" fill="#1E90FF"/>
<rect x="749.10" y="459.00" width="8.80" height="30.00" fill="#FFFFFF"/>
<rect x="749.00" y="463.40" width="9.00" height="1.20" fill="#1E90FF"/>
<rect x="749.00" y="467.40" width="9.00" height="1.20" fill="#1E90FF"/>
<rect x="749.00" y="472.40" width="9.00" height="1.20" fill="#1E90FF"/>
<rect x="749.00" y="477.40" width="9.00" height="1.20" fill="#1E90FF"/>
<rect x="749.00" y="481.90" width="9.00" height="1.20" fill="#1E90FF"/>
<rect x="749.00" y="486.40" width="9.00" height="1.20" fill="#1E90FF"/>
<rect x="740.50" y="454.30" width="26.00" height="4.20" fill="#FFFFFF"/>
<rect x="750.30" y="490.00" width="6.40" height="3.00" fill="#FFFFFF"/>
<rect x="750.00" y="490.45" width="2.60" height="2.10" rx="1" fill="#1E90FF"/>
<rect x="754.40" y="490.45" width="2.60" height="2.10" rx="1" fill="#1E90FF"/>
<rect x="750.50" y="490.30" width="6.00" height="2.40" rx="1.20" fill="none" stroke="#1E90FF" stroke-opacity="0.35" stroke-width="0.6"/>
<polygon points="751.50,492.00 753.00,511.00 754.00,511.00 755.50,492.00" fill="#1E90FF"/>
<rect x="822.90" y="233.90" width="3.10" height="2.60" rx="1" fill="#FF4500"/>
<rect x="827.80" y="233.90" width="3.10" height="2.60" rx="1" fill="#FF4500"/>
<rect x="822.90" y="250.70" width="3.10" height="2.60" rx="1" fill="#FF4500"/>
<rect x="827.80" y="250.70" width="3.10" height="2.60" rx="1" fill="#FF4500"/>
<rect x="822.90" y="257.90" width="3.10" height="2.60" rx="1" fill="#FF4500"/>
<rect x="827.80" y="257.90" width="3.10" height="2.60" rx="1" fill="#FF4500"/>
<rect x="822.90" y="260.90" width="3.10" height="2.60" rx="1" fill="#FF4500"/>
<rect x="827.80" y="260.90" width="3.10" height="2.60" rx="1" fill="#FF4500"/>
<rect x="822.90" y="267.50" width="3.10" height="2.60" rx="1" fill="#FF4500"/>
<rect x="827.80" y="267.50" width="3.10" height="2.60" rx="1" fill="#FF4500"/>
<rect x="822.90" y="269.30" width="3.10" height="2.60" rx="1" fill="#FF4500"/>
<rect x="827.80" y="269.30" width="3.10" height="2.60" rx="1" fill="#FF4500"/>
<rect x="822.90" y="274.70" width="3.10" height="2.60" rx="1" fill="#FF4500"/>
<rect x="827.80" y="274.70" width="3.10" height="2.60" rx="1" fill="#FF4500"/>
<rect x="822.90" y="278.30" width="3.10" height="2.60" rx="1" fill="#FF4500"/>
<rect x="827.80" y="278.30" width="3.10" height="2.60" rx="1" fill="#FF4500"/>
<rect x="823.40" y="283.80" width="7.00" height="6.20" fill="#FFFFFF"/>
<rect x="823.65" y="284.35" width="6.50" height="5.10" rx="2" fill="none" stroke="#FF4500" stroke-width="1.1"/>
<rect x="823.40" y="290.00" width="7.00" height="6.00" fill="#FFFFFF"/>
<rect x="823.65" y="290.55" width="6.50" height="4.90" rx="2" fill="none" stroke="#FF4500" stroke-width="1.1"/>
<rect x="823.40" y="296.00" width="7.00" height="6.50" fill="#FFFFFF"/>
<rect x="823.65" y="296.55" width="6.50" height="5.40" rx="2" fill="none" stroke="#FF4500" stroke-width="1.1"/>
<rect x="823.40" y="302.50" width="7.00" height="6.50" fill="#FFFFFF"/>
<rect x="823.65" y="303.05" width="6.50" height="5.40" rx="2" fill="none" stroke="#FF4500" stroke-width="1.1"/>
<rect x="825.70" y="292.50" width="2.40" height="2.00" fill="#FF4500"/>
<polygon points="822.60,326.00 821.50,335.40 820.80,345.00 818.80,358.00 818.20,368.80 818.20,379.60 820.20,394.00 822.00,412.00 822.40,420.00 822.60,423.00 831.20,423.00 831.40,420.00 831.80,412.00 833.60,394.00 835.60,379.60 835.60,368.80 835.00,358.00 833.00,345.00 832.30,335.40 831.20,326.00" fill="#FF4500"/>
<rect x="822.60" y="326.00" width="8.60" height="97.00" fill="#FFFFFF"/>
<rect x="817.60" y="369.85" width="18.60" height="4.30" fill="#FFFFFF"/>
<rect x="822.90" y="437.00" width="8.00" height="6.00" fill="#FFC0A8"/>
<rect x="823.70" y="437.80" width="6.40" height="4.40" fill="#FFFFFF"/>
<rect x="822.90" y="443.00" width="8.00" height="6.70" fill="#FFC0A8"/>
<rect x="823.70" y="443.80" width="6.40" height="5.10" fill="#FFFFFF"/>
<rect x="823.20" y="450.00" width="7.40" height="5.50" fill="#FFFFFF"/>
<rect x="823.45" y="450.55" width="6.90" height="4.40" rx="2" fill="none" stroke="#FF4500" stroke-width="1.1"/>
<rect x="823.20" y="455.50" width="7.40" height="5.50" fill="#FFFFFF"/>
<rect x="823.45" y="456.05" width="6.90" height="4.40" rx="2" fill="none" stroke="#FF4500" stroke-width="1.1"/>
<rect x="823.20" y="461.00" width="7.40" height="5.00" fill="#FFFFFF"/>
<rect x="823.45" y="461.55" width="6.90" height="3.90" rx="2" fill="none" stroke="#FF4500" stroke-width="1.1"/>
<rect x="823.20" y="466.00" width="7.40" height="5.30" fill="#FFFFFF"/>
<rect x="823.45" y="466.55" width="6.90" height="4.20" rx="2" fill="none" stroke="#FF4500" stroke-width="1.1"/>
<rect x="822.90" y="479.95" width="3.10" height="2.50" rx="1" fill="#FF4500"/>
<rect x="827.80" y="479.95" width="3.10" height="2.50" rx="1" fill="#FF4500"/>
<rect x="822.90" y="506.05" width="3.10" height="2.50" rx="1" fill="#FF4500"/>
<rect x="827.80" y="506.05" width="3.10" height="2.50" rx="1" fill="#FF4500"/>
<rect x="862.60" y="385.00" width="1.40" height="9.00" fill="#1E90FF"/>
<polygon points="861.80,394.00 861.80,400.00 864.80,400.00 864.80,394.00" fill="#1E90FF"/>
<rect x="860.10" y="397.65" width="6.40" height="3.50" fill="#FFFFFF"/>
<rect x="859.80" y="398.17" width="2.60" height="2.45" rx="1" fill="#1E90FF"/>
<rect x="864.20" y="398.17" width="2.60" height="2.45" rx="1" fill="#1E90FF"/>
<rect x="860.30" y="397.95" width="6.00" height="2.90" rx="1.45" fill="none" stroke="#1E90FF" stroke-opacity="0.35" stroke-width="0.6"/>
<rect x="860.10" y="402.95" width="6.40" height="3.50" fill="#FFFFFF"/>
<rect x="859.80" y="403.47" width="2.60" height="2.45" rx="1" fill="#1E90FF"/>
<rect x="864.20" y="403.47" width="2.60" height="2.45" rx="1" fill="#1E90FF"/>
<rect x="860.30" y="403.25" width="6.00" height="2.90" rx="1.45" fill="none" stroke="#1E90FF" stroke-opacity="0.35" stroke-width="0.6"/>
<rect x="859.70" y="404.00" width="7.20" height="28.00" fill="#1E90FF"/>
<rect x="860.50" y="406.75" width="5.60" height="2.50" fill="#FFFFFF"/>
<rect x="860.50" y="412.25" width="5.60" height="2.50" fill="#FFFFFF"/>
<rect x="860.50" y="417.75" width="5.60" height="2.50" fill="#FFFFFF"/>
<rect x="860.50" y="423.25" width="5.60" height="2.50" fill="#FFFFFF"/>
<rect x="860.50" y="428.25" width="5.60" height="2.50" fill="#FFFFFF"/>
<polygon points="859.30,430.00 857.90,439.00 852.30,446.10 851.30,447.50 849.50,451.40 849.50,460.50 854.30,471.00 858.80,478.70 859.80,484.00 859.80,488.00 866.80,488.00 866.80,484.00 867.80,478.70 872.30,471.00 877.10,460.50 877.10,451.40 875.30,447.50 874.30,446.10 868.70,439.00 867.30,430.00" fill="#1E90FF"/>
<rect x="859.50" y="432.00" width="7.60" height="13.00" fill="#FFFFFF"/>
<rect x="859.30" y="434.50" width="8.00" height="1.00" fill="#1E90FF"/>
<rect x="859.30" y="438.50" width="8.00" height="1.00" fill="#1E90FF"/>
<rect x="859.30" y="441.50" width="8.00" height="1.00" fill="#1E90FF"/>
<rect x="859.40" y="452.00" width="7.80" height="26.00" fill="#FFFFFF"/>
<rect x="858.70" y="465.30" width="9.20" height="1.80" fill="#1E90FF"/>
<rect x="858.70" y="470.60" width="9.20" height="1.80" fill="#1E90FF"/>
<rect x="849.30" y="447.50" width="28.00" height="4.00" fill="#FFFFFF"/>
<rect x="860.10" y="487.30" width="6.40" height="4.00" fill="#FFFFFF"/>
<rect x="859.80" y="488.00" width="2.60" height="2.60" rx="1" fill="#1E90FF"/>
<rect x="864.20" y="488.00" width="2.60" height="2.60" rx="1" fill="#1E90FF"/>
<rect x="860.30" y="487.60" width="6.00" height="3.40" rx="1.70" fill="none" stroke="#1E90FF" stroke-opacity="0.35" stroke-width="0.6"/>
<polygon points="861.80,491.00 862.80,505.50 863.80,505.50 864.80,491.00" fill="#1E90FF"/>
<rect x="936.45" y="326.00" width="1.10" height="36.00" fill="#FF4500"/>
<rect x="933.30" y="318.10" width="7.40" height="3.00" fill="#FFFFFF"/>
<rect x="933.00" y="318.40" width="3.10" height="2.40" rx="1" fill="#FF4500"/>
<rect x="937.90" y="318.40" width="3.10" height="2.40" rx="1" fill="#FF4500"/>
<rect x="933.30" y="324.20" width="7.40" height="3.00" fill="#FFFFFF"/>
<rect x="933.00" y="324.50" width="3.10" height="2.40" rx="1" fill="#FF4500"/>
<rect x="937.90" y="324.50" width="3.10" height="2.40" rx="1" fill="#FF4500"/>
<rect x="933.30" y="327.40" width="7.40" height="3.00" fill="#FFFFFF"/>
<rect x="933.00" y="327.70" width="3.10" height="2.40" rx="1" fill="#FF4500"/>
<rect x="937.90" y="327.70" width="3.10" height="2.40" rx="1" fill="#FF4500"/>
<rect x="933.30" y="334.30" width="7.40" height="3.00" fill="#FFFFFF"/>
<rect x="933.00" y="334.60" width="3.10" height="2.40" rx="1" fill="#FF4500"/>
<rect x="937.90" y="334.60" width="3.10" height="2.40" rx="1" fill="#FF4500"/>
<rect x="933.30" y="339.90" width="7.40" height="3.00" fill="#FFFFFF"/>
<rect x="933.00" y="340.20" width="3.10" height="2.40" rx="1" fill="#FF4500"/>
<rect x="937.90" y="340.20" width="3.10" height="2.40" rx="1" fill="#FF4500"/>
<rect x="933.30" y="347.70" width="7.40" height="3.00" fill="#FFFFFF"/>
<rect x="933.00" y="348.00" width="3.10" height="2.40" rx="1" fill="#FF4500"/>
<rect x="937.90" y="348.00" width="3.10" height="2.40" rx="1" fill="#FF4500"/>
<rect x="933.30" y="352.40" width="7.40" height="3.00" fill="#FFFFFF"/>
<rect x="933.00" y="352.70" width="3.10" height="2.40" rx="1" fill="#FF4500"/>
<rect x="937.90" y="352.70" width="3.10" height="2.40" rx="1" fill="#FF4500"/>
<rect x="933.30" y="358.20" width="7.40" height="3.00" fill="#FFFFFF"/>
<rect x="933.00" y="358.50" width="3.10" height="2.40" rx="1" fill="#FF4500"/>
<rect x="937.90" y="358.50" width="3.10" height="2.40" rx="1" fill="#FF4500"/>
<rect x="935.90" y="344.40" width="2.20" height="2.60" fill="#FF4500"/>
<rect x="936.10" y="350.80" width="1.80" height="2.60" fill="#FF4500"/>
<rect x="935.90" y="355.20" width="2.20" height="2.60" fill="#FF4500"/>
<rect x="935.40" y="360.40" width="3.20" height="2.60" fill="#FF4500"/>
<rect x="932.80" y="362.00" width="0.70" height="9.00" fill="#FFC9B5"/>
<rect x="940.50" y="362.00" width="0.70" height="9.00" fill="#FFC9B5"/>
<polygon points="933.00,374.00 930.00,382.00 927.00,391.00 924.70,400.00 923.40,407.30 922.50,418.00 924.70,427.00 928.30,436.00 932.80,445.00 933.00,446.70 941.00,446.70 941.20,445.00 945.70,436.00 949.30,427.00 951.50,418.00 950.60,407.30 949.30,400.00 947.00,391.00 944.00,382.00 941.00,374.00" fill="#FF4500"/>
<rect x="933.00" y="374.00" width="8.00" height="72.70" fill="#FFFFFF"/>
<rect x="921.50" y="409.10" width="31.00" height="5.00" fill="#FFFFFF"/>
<rect x="932.80" y="447.00" width="0.70" height="10.00" fill="#FFC9B5"/>
<rect x="940.50" y="447.00" width="0.70" height="10.00" fill="#FFC9B5"/>
<rect x="936.45" y="459.00" width="1.10" height="22.00" fill="#FF4500"/>
<rect x="933.30" y="457.40" width="7.40" height="3.20" fill="#FFFFFF"/>
<rect x="933.00" y="457.80" width="3.10" height="2.40" rx="1" fill="#FF4500"/>
<rect x="937.90" y="457.80" width="3.10" height="2.40" rx="1" fill="#FF4500"/>
<rect x="933.30" y="461.80" width="7.40" height="3.20" fill="#FFFFFF"/>
<rect x="933.00" y="462.20" width="3.10" height="2.40" rx="1" fill="#FF4500"/>
<rect x="937.90" y="462.20" width="3.10" height="2.40" rx="1" fill="#FF4500"/>
<rect x="933.30" y="466.20" width="7.40" height="3.20" fill="#FFFFFF"/>
<rect x="933.00" y="466.60" width="3.10" height="2.40" rx="1" fill="#FF4500"/>
<rect x="937.90" y="466.60" width="3.10" height="2.40" rx="1" fill="#FF4500"/>
<rect x="933.30" y="470.60" width="7.40" height="3.20" fill="#FFFFFF"/>
<rect x="933.00" y="471.00" width="3.10" height="2.40" rx="1" fill="#FF4500"/>
<rect x="937.90" y="471.00" width="3.10" height="2.40" rx="1" fill="#FF4500"/>
<rect x="933.30" y="475.00" width="7.40" height="3.20" fill="#FFFFFF"/>
<rect x="933.00" y="475.40" width="3.10" height="2.40" rx="1" fill="#FF4500"/>
<rect x="937.90" y="475.40" width="3.10" height="2.40" rx="1" fill="#FF4500"/>
<rect x="933.30" y="479.40" width="7.40" height="3.20" fill="#FFFFFF"/>
<rect x="933.00" y="479.80" width="3.10" height="2.40" rx="1" fill="#FF4500"/>
<rect x="937.90" y="479.80" width="3.10" height="2.40" rx="1" fill="#FF4500"/>
<rect x="936.00" y="460.20" width="2.00" height="2.00" fill="#FF4500"/>
<rect x="936.00" y="464.60" width="2.00" height="2.00" fill="#FF4500"/>
<rect x="936.00" y="469.00" width="2.00" height="2.00" fill="#FF4500"/>
<rect x="936.00" y="473.40" width="2.00" height="2.00" fill="#FF4500"/>
<rect x="936.00" y="477.80" width="2.00" height="2.00" fill="#FF4500"/>
<rect x="936.40" y="481.00" width="1.20" height="3.00" fill="#FF4500"/>
<rect x="972.60" y="343.30" width="1.40" height="24.30" fill="#1E90FF"/>
<rect x="970.10" y="351.45" width="6.40" height="3.50" fill="#FFFFFF"/>
<rect x="969.80" y="351.97" width="2.60" height="2.45" rx="1" fill="#1E90FF"/>
<rect x="974.20" y="351.97" width="2.60" height="2.45" rx="1" fill="#1E90FF"/>
<rect x="970.30" y="351.75" width="6.00" height="2.90" rx="1.45" fill="none" stroke="#1E90FF" stroke-opacity="0.35" stroke-width="0.6"/>
<rect x="970.10" y="355.95" width="6.40" height="3.50" fill="#FFFFFF"/>
<rect x="969.80" y="356.47" width="2.60" height="2.45" rx="1" fill="#1E90FF"/>
<rect x="974.20" y="356.47" width="2.60" height="2.45" rx="1" fill="#1E90FF"/>
<rect x="970.30" y="356.25" width="6.00" height="2.90" rx="1.45" fill="none" stroke="#1E90FF" stroke-opacity="0.35" stroke-width="0.6"/>
<rect x="972.50" y="385.50" width="1.60" height="12.50" fill="#1E90FF"/>
<rect x="970.10" y="392.75" width="6.40" height="3.50" fill="#FFFFFF"/>
<rect x="969.80" y="393.27" width="2.60" height="2.45" rx="1" fill="#1E90FF"/>
<rect x="974.20" y="393.27" width="2.60" height="2.45" rx="1" fill="#1E90FF"/>
<rect x="970.30" y="393.05" width="6.00" height="2.90" rx="1.45" fill="none" stroke="#1E90FF" stroke-opacity="0.35" stroke-width="0.6"/>
<rect x="970.80" y="396.50" width="5.00" height="3.50" fill="#1E90FF"/>
<polygon points="969.80,400.00 968.80,407.00 967.80,411.00 963.40,418.00 960.50,425.30 960.10,436.00 964.70,447.00 969.10,457.70 970.30,463.00 973.00,473.70 973.60,473.70 976.30,463.00 977.50,457.70 981.90,447.00 986.50,436.00 986.10,425.30 983.20,418.00 978.80,411.00 977.80,407.00 976.80,400.00" fill="#1E90FF"/>
<rect x="969.80" y="401.50" width="7.00" height="3.50" fill="#1E90FF"/>
<rect x="970.80" y="402.50" width="5.00" height="1.50" fill="#FFFFFF"/>
<rect x="969.10" y="407.00" width="8.40" height="50.00" fill="#FFFFFF"/>
<rect x="969.00" y="409.35" width="8.60" height="1.30" fill="#1E90FF"/>
<rect x="969.00" y="413.35" width="8.60" height="1.30" fill="#1E90FF"/>
<rect x="969.00" y="420.85" width="8.60" height="1.30" fill="#1E90FF"/>
<rect x="969.00" y="435.35" width="8.60" height="1.30" fill="#1E90FF"/>
<rect x="969.00" y="442.35" width="8.60" height="1.30" fill="#1E90FF"/>
<rect x="969.00" y="450.35" width="8.60" height="1.30" fill="#1E90FF"/>
<rect x="969.00" y="454.35" width="8.60" height="1.30" fill="#1E90FF"/>
<rect x="959.30" y="426.50" width="28.00" height="4.40" fill="#FFFFFF"/>
<rect x="1046.70" y="176.00" width="1.40" height="16.00" fill="#FF4500"/>
<rect x="1043.40" y="183.10" width="8.00" height="1.80" fill="#FF4500"/>
<rect x="1046.40" y="183.10" width="2.00" height="1.80" fill="#FFFFFF"/>
<rect x="1046.80" y="228.50" width="1.20" height="35.00" fill="#FF4500"/>
<rect x="1043.40" y="236.00" width="8.00" height="1.80" fill="#FF4500"/>
<rect x="1043.40" y="250.90" width="8.00" height="1.80" fill="#FF4500"/>
<rect x="1046.40" y="236.00" width="2.00" height="1.80" fill="#FFFFFF"/>
<rect x="1046.40" y="250.90" width="2.00" height="1.80" fill="#FFFFFF"/>
<polygon points="1046.60,263.50 1045.90,269.80 1048.90,269.80 1048.20,263.50" fill="#FF4500"/>
<rect x="1044.20" y="270.00" width="6.40" height="5.00" fill="#FFFFFF"/>
<rect x="1044.45" y="270.55" width="5.90" height="3.90" rx="2" fill="none" stroke="#FF4500" stroke-width="1.1"/>
<rect x="1044.20" y="275.00" width="6.40" height="6.50" fill="#FFFFFF"/>
<rect x="1044.45" y="275.55" width="5.90" height="5.40" rx="2" fill="none" stroke="#FF4500" stroke-width="1.1"/>
<rect x="1043.60" y="284.00" width="7.60" height="25.00" fill="#FF4500"/>
<rect x="1044.40" y="285.20" width="6.00" height="4.40" fill="#FFFFFF"/>
<rect x="1044.40" y="291.00" width="6.00" height="7.00" fill="#FFFFFF"/>
<rect x="1044.40" y="299.40" width="6.00" height="2.80" fill="#FFFFFF"/>
<rect x="1044.40" y="303.60" width="6.00" height="4.70" fill="#FFFFFF"/>
<polygon points="1043.60,306.70 1042.90,308.80 1042.60,313.60 1041.60,322.00 1040.00,328.00 1040.00,347.00 1039.40,356.00 1039.00,364.00 1040.10,376.00 1042.00,384.40 1042.90,388.00 1043.40,389.40 1051.40,389.40 1051.90,388.00 1052.80,384.40 1054.70,376.00 1055.80,364.00 1055.40,356.00 1054.80,347.00 1054.80,328.00 1053.20,322.00 1052.20,313.60 1051.90,308.80 1051.20,306.70" fill="#FF4500"/>
<rect x="1043.00" y="313.60" width="8.80" height="72.00" fill="#FFFFFF"/>
<rect x="1042.90" y="320.90" width="9.00" height="1.00" fill="#FF4500"/>
<rect x="1042.90" y="322.70" width="9.00" height="1.00" fill="#FF4500"/>
<rect x="1042.90" y="335.30" width="9.00" height="1.00" fill="#FF4500"/>
<rect x="1042.90" y="343.10" width="9.00" height="1.00" fill="#FF4500"/>
<rect x="1042.90" y="347.10" width="9.00" height="1.00" fill="#FF4500"/>
<rect x="1042.90" y="353.90" width="9.00" height="1.00" fill="#FF4500"/>
<rect x="1042.90" y="357.50" width="9.00" height="1.00" fill="#FF4500"/>
<rect x="1042.90" y="361.50" width="9.00" height="1.00" fill="#FF4500"/>
<rect x="1042.90" y="374.30" width="9.00" height="1.00" fill="#FF4500"/>
<rect x="1042.90" y="376.70" width="9.00" height="1.00" fill="#FF4500"/>
<rect x="1042.90" y="379.10" width="9.00" height="1.00" fill="#FF4500"/>
<rect x="1039.40" y="348.90" width="16.00" height="4.00" fill="#FFFFFF"/>
<rect x="1043.60" y="389.40" width="7.60" height="16.10" fill="#FF4500"/>
<rect x="1044.20" y="390.00" width="6.40" height="2.00" fill="#FFFFFF"/>
<rect x="1044.20" y="393.00" width="6.40" height="2.00" fill="#FFFFFF"/>
<rect x="1044.20" y="396.50" width="6.40" height="2.00" fill="#FFFFFF"/>
<rect x="1044.20" y="400.00" width="6.40" height="2.00" fill="#FFFFFF"/>
<rect x="1044.20" y="403.25" width="6.40" height="1.50" fill="#FFFFFF"/>
<rect x="1045.90" y="405.50" width="3.00" height="31.50" fill="#FF4500"/>
<rect x="1044.90" y="411.00" width="5.00" height="3.50" fill="#FF4500"/>
<rect x="1044.20" y="414.50" width="6.40" height="5.50" fill="#FFFFFF"/>
<rect x="1044.45" y="415.05" width="5.90" height="4.40" rx="2" fill="none" stroke="#FF4500" stroke-width="1.1"/>
<rect x="1044.20" y="420.00" width="6.40" height="6.00" fill="#FFFFFF"/>
<rect x="1044.45" y="420.55" width="5.90" height="4.90" rx="2" fill="none" stroke="#FF4500" stroke-width="1.1"/>
<rect x="1044.20" y="426.00" width="6.40" height="6.00" fill="#FFFFFF"/>
<rect x="1044.45" y="426.55" width="5.90" height="4.90" rx="2" fill="none" stroke="#FF4500" stroke-width="1.1"/>
<rect x="1044.20" y="432.00" width="6.40" height="4.00" fill="#FFFFFF"/>
<rect x="1043.90" y="432.70" width="2.60" height="2.60" rx="1" fill="#FF4500"/>
<rect x="1048.30" y="432.70" width="2.60" height="2.60" rx="1" fill="#FF4500"/>
<rect x="1044.40" y="432.30" width="6.00" height="3.40" rx="1.70" fill="none" stroke="#FF4500" stroke-opacity="0.35" stroke-width="0.6"/>
<rect x="1044.90" y="425.00" width="5.00" height="3.00" fill="#FF4500"/>
<rect x="1044.20" y="442.30" width="6.40" height="2.80" fill="#FFFFFF"/>
<rect x="1043.90" y="442.72" width="2.60" height="1.96" rx="1" fill="#FF4500"/>
<rect x="1048.30" y="442.72" width="2.60" height="1.96" rx="1" fill="#FF4500"/>
<rect x="1044.40" y="442.60" width="6.00" height="2.20" rx="1.10" fill="none" stroke="#FF4500" stroke-opacity="0.35" stroke-width="0.6"/>
<rect x="1046.80" y="437.00" width="1.20" height="22.50" fill="#FF4500"/>
<rect x="1046.70" y="476.50" width="1.40" height="17.00" fill="#FF4500"/>
<rect x="1043.40" y="484.10" width="8.00" height="1.80" fill="#FF4500"/>
<rect x="1046.40" y="484.10" width="2.00" height="1.80" fill="#FFFFFF"/>
<polygon points="1083.20,337.20 1078.50,353.40 1073.40,366.00 1071.80,376.80 1072.00,381.30 1074.00,386.10 1077.00,402.00 1080.20,411.00 1081.70,414.00 1083.20,425.30 1084.20,425.30 1085.70,414.00 1087.20,411.00 1090.40,402.00 1093.40,386.10 1095.40,381.30 1095.60,376.80 1094.00,366.00 1088.90,353.40 1084.20,337.20" fill="#1E90FF"/>
<rect x="1079.50" y="351.50" width="8.40" height="3.50" fill="#1E90FF"/>
<rect x="1080.50" y="352.50" width="6.40" height="1.50" fill="#FFFFFF"/>
<rect x="1079.80" y="364.00" width="7.80" height="3.00" fill="#FFFFFF"/>
<rect x="1079.80" y="368.00" width="7.80" height="4.00" fill="#FFFFFF"/>
<rect x="1079.80" y="376.40" width="7.80" height="3.10" fill="#FFFFFF"/>
<rect x="1079.80" y="397.40" width="7.80" height="3.60" fill="#FFFFFF"/>
<rect x="1071.20" y="381.40" width="25.00" height="4.60" fill="#FFFFFF"/>
<rect x="1080.20" y="410.00" width="7.00" height="3.00" fill="#1E90FF"/>
<rect x="1081.20" y="411.00" width="5.00" height="1.00" fill="#FFFFFF"/>
<rect x="1082.90" y="441.50" width="1.60" height="26.10" fill="#1E90FF"/>
<rect x="1080.50" y="452.35" width="6.40" height="3.50" fill="#FFFFFF"/>
<rect x="1080.20" y="452.88" width="2.60" height="2.45" rx="1" fill="#1E90FF"/>
<rect x="1084.60" y="452.88" width="2.60" height="2.45" rx="1" fill="#1E90FF"/>
<rect x="1080.70" y="452.65" width="6.00" height="2.90" rx="1.45" fill="none" stroke="#1E90FF" stroke-opacity="0.35" stroke-width="0.6"/>
<rect x="204" y="164" width="952" height="552" fill="none" stroke="#000" stroke-width="2"/>
<line x1="183" y1="643.0" x2="204" y2="643.0" stroke="#000" stroke-width="2"/>
<text x="0" y="0" text-anchor="middle" font-size="33" transform="translate(156 643.0) rotate(-90)">9</text>
<line x1="183" y1="542.0" x2="204" y2="542.0" stroke="#000" stroke-width="2"/>
<text x="0" y="0" text-anchor="middle" font-size="33" transform="translate(156 542.0) rotate(-90)">10</text>
<line x1="183" y1="441.0" x2="204" y2="441.0" stroke="#000" stroke-width="2"/>
<text x="0" y="0" text-anchor="middle" font-size="33" transform="translate(156 441.0) rotate(-90)">11</text>
<line x1="183" y1="340.0" x2="204" y2="340.0" stroke="#000" stroke-width="2"/>
<text x="0" y="0" text-anchor="middle" font-size="33" transform="translate(156 340.0) rotate(-90)">12</text>
<line x1="183" y1="239.0" x2="204" y2="239.0" stroke="#000" stroke-width="2"/>
<text x="0" y="0" text-anchor="middle" font-size="33" transform="translate(156 239.0) rotate(-90)">13</text>
<text x="0" y="0" text-anchor="middle" font-size="26.7" transform="translate(76 440.4) rotate(-90)">mRNA Expression (RNASeq V2, log2)</text>
<rect x="1187" y="248.3" width="22" height="17.7" fill="#FF4500"/>
<rect x="1187" y="288.3" width="22" height="17.7" fill="#1E90FF"/>
<text x="1239" y="268.9" font-size="34">Tumor</text>
<text x="1238.4" y="308.9" font-size="34">Normal</text>
<text x="0" y="0" text-anchor="end" font-size="26.6" transform="translate(298.5 745.5) rotate(-45)">Breast (BRCA)</text>
<text x="0" y="0" text-anchor="end" font-size="19.85" transform="translate(335.2 746.3) rotate(-45)">adjusted p-value &lt;2e-16</text>
<text x="0" y="0" text-anchor="end" font-size="26.6" transform="translate(408.5 745.5) rotate(-45)">Colon and Rectal (COAD)</text>
<text x="0" y="0" text-anchor="end" font-size="19.85" transform="translate(445.2 746.3) rotate(-45)">adjusted p-value = 2.2e-12</text>
<text x="0" y="0" text-anchor="end" font-size="26.6" transform="translate(518.5 745.5) rotate(-45)">Head and Neck (HNSC)</text>
<text x="0" y="0" text-anchor="end" font-size="19.85" transform="translate(555.2 746.3) rotate(-45)">adjusted p-value = 1.1e-05</text>
<text x="0" y="0" text-anchor="end" font-size="26.6" transform="translate(628.5 745.5) rotate(-45)">Kidney (KIRC)</text>
<text x="0" y="0" text-anchor="end" font-size="19.85" transform="translate(665.2 746.3) rotate(-45)">adjusted p-value = 1.8e-10</text>
<text x="0" y="0" text-anchor="end" font-size="26.6" transform="translate(738.5 745.5) rotate(-45)">Lung (LUAD)</text>
<text x="0" y="0" text-anchor="end" font-size="19.85" transform="translate(775.2 746.3) rotate(-45)">adjusted p-value &lt;2e-16</text>
<text x="0" y="0" text-anchor="end" font-size="26.6" transform="translate(848.5 745.5) rotate(-45)">Lung Squamous (LUSC)</text>
<text x="0" y="0" text-anchor="end" font-size="19.85" transform="translate(885.2 746.3) rotate(-45)">adjusted p-value &lt;2e-16</text>
<text x="0" y="0" text-anchor="end" font-size="26.6" transform="translate(958.5 745.5) rotate(-45)">Thyroid (THCA)</text>
<text x="0" y="0" text-anchor="end" font-size="19.85" transform="translate(995.2 746.3) rotate(-45)">adjusted p-value = 6.1e-05</text>
<text x="0" y="0" text-anchor="end" font-size="26.6" transform="translate(1068.5 745.5) rotate(-45)">Uterine (UCEC)</text>
<text x="0" y="0" text-anchor="end" font-size="19.85" transform="translate(1105.2 746.3) rotate(-45)">adjusted p-value = 0.085</text>
</svg></body></html>
